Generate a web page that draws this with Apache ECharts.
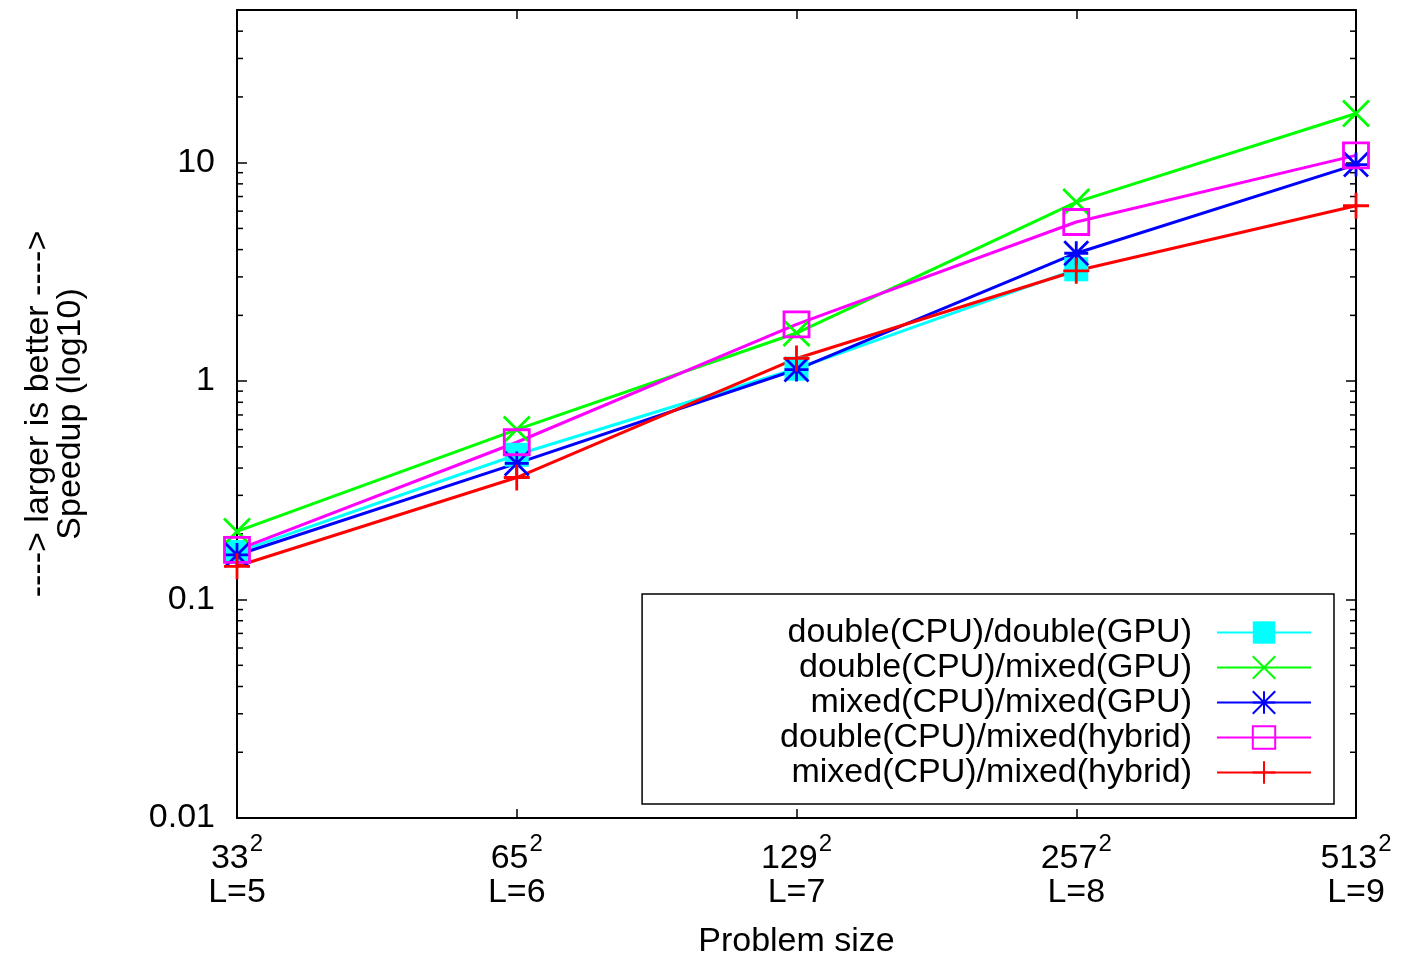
<!DOCTYPE html>
<html>
<head>
<meta charset="utf-8">
<script src="https://cdn.jsdelivr.net/npm/echarts@6/dist/echarts.min.js"></script>
<style>
html,body{margin:0;padding:0;background:#fff;}
#chart{width:1422px;height:958px;}
</style>
</head>
<body>
<div id="chart"></div>
<script>
// ---- data ----
const sizes = ['33', '65', '129', '257', '513'];
const levels = ['L=5', 'L=6', 'L=7', 'L=8', 'L=9'];
const seriesNames = [
  'double(CPU)/double(GPU)',
  'double(CPU)/mixed(GPU)',
  'mixed(CPU)/mixed(GPU)',
  'double(CPU)/mixed(hybrid)',
  'mixed(CPU)/mixed(hybrid)'
];
const dblDblGPU   = [0.165, 0.46, 1.14, 3.25, null];
const dblMixGPU   = [0.205, 0.60, 1.66, 6.6, 16.8];
const mixMixGPU   = [0.160, 0.42, 1.13, 3.85, 9.8];
const dblMixHyb   = [0.169, 0.525, 1.82, 5.35, 10.8];
const mixMixHyb   = [0.142, 0.362, 1.27, 3.2, 6.35];
const yMin = 0.01, yMax = 50;
const minorTickValues = [
  0.02,0.03,0.04,0.05,0.06,0.07,0.08,0.09,
  0.2,0.3,0.4,0.5,0.6,0.7,0.8,0.9,
  2,3,4,5,6,7,8,9,
  20,30,40
];

const FONT = 'Liberation Sans, Arial, Helvetica, sans-serif';
const categories = sizes.map((s, i) => s + '|' + levels[i]);

const P_X = 'path://M0,0L10,10M10,0L0,10';
const P_PLUS = 'path://M5,0L5,10M0,5L10,5';
const P_STAR = 'path://M0,0L10,10M10,0L0,10M5,0L5,10M0,5L10,5';
const P_SQ = 'path://M0,0L10,0L10,10L0,10Z';

function lineSeries(name, data, color, symbol, size, filled) {
  return {
    name: name,
    type: 'line',
    data: data,
    xAxisIndex: 0,
    yAxisIndex: 0,
    clip: false,
    connectNulls: false,
    symbol: symbol,
    symbolSize: size,
    showAllSymbol: true,
    lineStyle: { color: color, width: 3 },
    itemStyle: {
      color: filled ? color : 'rgba(0,0,0,0)',
      borderColor: color,
      borderWidth: filled ? 0 : 2.8
    },
    emphasis: { disabled: true },
    animation: false
  };
}

const chart = echarts.init(document.getElementById('chart'), null, { renderer: 'canvas' });

const option = {
  backgroundColor: '#fff',
  animation: false,
  textStyle: { fontFamily: FONT },
  grid: { left: 237, right: 66, top: 10, bottom: 140, show: false, outerBoundsMode: 'none', containLabel: false },
  legend: {
    data: seriesNames,
    orient: 'vertical',
    align: 'right',
    right: 88,
    top: 594,
    itemWidth: 94,
    itemHeight: 28,
    itemGap: 0,
    padding: [21, 22, 14, 138],
    borderColor: '#000',
    borderWidth: 1.5,
    backgroundColor: '#fff',
    selectedMode: false,
    textStyle: { fontFamily: FONT, fontSize: 34, lineHeight: 35, color: '#000', padding: [0, 20, 0, 0] }
  },
  xAxis: [{
    type: 'category',
    data: categories,
    boundaryGap: false,
    position: 'bottom',
    axisLine: { show: true, lineStyle: { color: '#000', width: 2 } },
    axisTick: { show: true, inside: true, length: 9, lineStyle: { color: '#000', width: 1.5 } },
    splitLine: { show: false },
    axisLabel: {
      margin: 14,
      color: '#000',
      formatter: function (v) {
        const p = v.split('|');
        return '{n|' + p[0] + '}{s|2}\n{l|' + p[1] + '}';
      },
      rich: {
        n: { fontSize: 34, fontFamily: FONT, color: '#000', lineHeight: 44, verticalAlign: 'bottom' },
        s: { fontSize: 24, fontFamily: FONT, color: '#000', lineHeight: 24, verticalAlign: 'top', padding: [0, 0, 0, 1] },
        l: { fontSize: 34, fontFamily: FONT, color: '#000', lineHeight: 34 }
      }
    },
    name: 'Problem size',
    nameLocation: 'middle',
    nameGap: 107,
    nameTextStyle: { fontSize: 34, fontFamily: FONT, color: '#000' }
  }, {
    type: 'category',
    data: categories,
    boundaryGap: false,
    position: 'top',
    axisLine: { show: true, lineStyle: { color: '#000', width: 2 } },
    axisTick: { show: true, inside: true, length: 9, lineStyle: { color: '#000', width: 1.5 } },
    axisLabel: { show: false },
    splitLine: { show: false }
  }],
  yAxis: [{
    type: 'log',
    logBase: 10,
    min: yMin,
    max: yMax,
    position: 'left',
    axisLine: { show: true, lineStyle: { color: '#000', width: 2 } },
    axisTick: { show: true, inside: true, length: 10, lineStyle: { color: '#000', width: 1.5 } },
    splitLine: { show: false },
    axisLabel: {
      margin: 22,
      color: '#000',
      fontSize: 34,
      fontFamily: FONT,
      showMaxLabel: false,
      formatter: function (v) { return String(+Number(v).toPrecision(3)); }
    },
    name: '----> larger is better ---->\nSpeedup (log10)',
    nameLocation: 'middle',
    nameRotate: 90,
    nameGap: 150,
    nameTextStyle: { fontSize: 34, fontFamily: FONT, color: '#000', lineHeight: 32 }
  }, {
    type: 'log',
    logBase: 10,
    min: yMin,
    max: yMax,
    position: 'right',
    axisLine: { show: true, lineStyle: { color: '#000', width: 2 } },
    axisTick: { show: true, inside: true, length: 10, lineStyle: { color: '#000', width: 1.5 } },
    splitLine: { show: false },
    axisLabel: { show: false }
  }],
  series: [
    {
      name: 'minorTicks',
      type: 'custom',
      xAxisIndex: 0,
      yAxisIndex: 0,
      silent: true,
      z: 1,
      data: minorTickValues.map(v => [0, v]),
      encode: { x: 0, y: 1 },
      renderItem: function (params, api) {
        const v = api.value(1);
        const pl = api.coord([0, v]);
        const pr = api.coord([sizes.length - 1, v]);
        return {
          type: 'group',
          children: [
            { type: 'line', shape: { x1: pl[0], y1: pl[1], x2: pl[0] + 6, y2: pl[1] }, style: { stroke: '#000', lineWidth: 1.5 } },
            { type: 'line', shape: { x1: pr[0], y1: pr[1], x2: pr[0] - 6, y2: pr[1] }, style: { stroke: '#000', lineWidth: 1.5 } }
          ]
        };
      }
    },
    lineSeries(seriesNames[0], dblDblGPU, '#00ffff', 'rect', 24, true),
    lineSeries(seriesNames[1], dblMixGPU, '#00ff00', P_X, 26, false),
    lineSeries(seriesNames[2], mixMixGPU, '#0000ff', P_STAR, 24, false),
    lineSeries(seriesNames[3], dblMixHyb, '#ff00ff', P_SQ, 25, false),
    lineSeries(seriesNames[4], mixMixHyb, '#ff0000', P_PLUS, 26, false)
  ]
};
chart.setOption(option);
</script>
</body>
</html>
